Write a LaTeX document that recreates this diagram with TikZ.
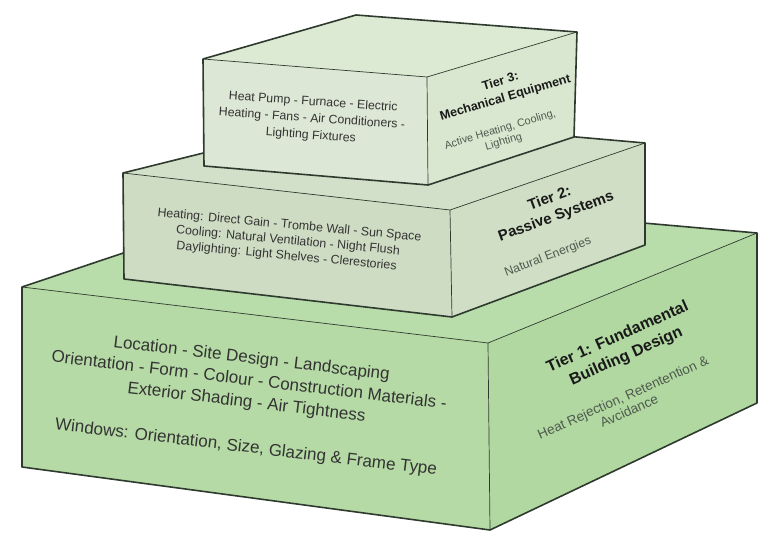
\documentclass[tikz,border=0pt]{standalone}
\usepackage{fontspec}
\setmainfont{Liberation Sans}
\definecolor{tOneFront}{HTML}{B5DAA5}
\definecolor{tOneRight}{HTML}{B1D8A1}
\definecolor{tOneTop}{HTML}{B8DCAA}
\definecolor{tTwoFront}{HTML}{CFDCC4}
\definecolor{tTwoRight}{HTML}{D0DEC5}
\definecolor{tTwoTop}{HTML}{D3E0C9}
\definecolor{tThreeFront}{HTML}{DDE7D5}
\definecolor{tThreeRight}{HTML}{D9E7D0}
\definecolor{tThreeTop}{HTML}{DCE9D3}
\definecolor{edgecol}{HTML}{2E3A2E}
\definecolor{bodytext}{HTML}{333333}
\definecolor{subtext}{HTML}{4F5A4F}
\begin{document}
\begin{tikzpicture}[x=1pt,y=-1pt,
  inner/.style={draw=edgecol, line width=0.7pt},
  outline/.style={draw=edgecol, line width=1.6pt, line join=round},
  bodytxt/.style={text=bodytext, align=center, inner sep=0pt},
  titletxt/.style={text=black!90, align=center, inner sep=0pt, font=\bfseries},
  subtxt/.style={text=subtext, align=center, inner sep=0pt}]
\useasboundingbox[fill=white] (0,0) rectangle (758,534);

% ---------- Tier 1 ----------
\fill[tOneTop] (22,287) -- (302,193) -- (757,233) -- (488,343) -- cycle;
\fill[tOneFront] (22,287) -- (488,343) -- (490,530) -- (22,467) -- cycle;
\fill[tOneRight] (488,343) -- (757,233) -- (757,403) -- (490,530) -- cycle;
\draw[inner] (22,287) -- (488,343) -- (757,233);
\draw[inner] (488,343) -- (490,530);
\draw[outline] (22,287) -- (302,193) -- (757,233) -- (757,403) -- (490,530) -- (22,467) -- cycle;

% ---------- Tier 2 ----------
\fill[tTwoTop] (123,173) -- (348,117) -- (645,143) -- (450,210) -- cycle;
\fill[tTwoFront] (123,173) -- (450,210) -- (452,317) -- (124,279) -- cycle;
\fill[tTwoRight] (450,210) -- (645,143) -- (645,245) -- (452,317) -- cycle;
\draw[inner] (123,173) -- (450,210) -- (645,143);
\draw[inner] (450,210) -- (452,317);
\draw[outline] (123,173) -- (348,117) -- (645,143) -- (645,245) -- (452,317) -- (124,279) -- cycle;

% ---------- Tier 3 ----------
\fill[tThreeTop] (203,59) -- (356,15) -- (577,32) -- (427,77) -- cycle;
\fill[tThreeFront] (203,59) -- (427,77) -- (428,185) -- (204,166) -- cycle;
\fill[tThreeRight] (427,77) -- (577,32) -- (574,137) -- (428,185) -- cycle;
\draw[inner] (203,59) -- (427,77) -- (577,32);
\draw[inner] (427,77) -- (428,185);
\draw[outline] (203,59) -- (356,15) -- (577,32) -- (574,137) -- (428,185) -- (204,166) -- cycle;

% ---------- Texts ----------
\node[bodytxt, rotate=-4, font=\fontsize{12.3}{16.8}\selectfont] (t3body) at (312,119)
  {Heat Pump - Furnace - Electric\\Heating - Fans - Air Conditioners -\\Lighting Fixtures};
\node[titletxt, rotate=16.5, font=\fontsize{12.5}{17}\bfseries] (t3title) at (503,90)
  {Tier 3:\\Mechanical Equipment};
\node[subtxt, rotate=16.5, font=\fontsize{10.8}{12.5}\selectfont] (t3sub) at (502,136)
  {Active Heating, Cooling,\\Lighting};

\node[bodytxt, rotate=-5.4, font=\fontsize{12.4}{15.5}\selectfont] (t2body) at (288,241)
  {Heating: Direct Gain - Trombe Wall - Sun Space\\Cooling: Natural Ventilation - Night Flush\\Daylighting: Light Shelves - Clerestories};
\node[titletxt, rotate=20, font=\fontsize{15}{19}\bfseries] (t2title) at (553,208)
  {Tier 2:\\Passive Systems};
\node[subtxt, rotate=21, font=\fontsize{12.3}{14}\selectfont] (t2sub) at (548,257)
  {Natural Energies};

\node[bodytxt, rotate=-6.8, font=\fontsize{17}{22}\selectfont] (t1body) at (249,381)
  {Location - Site Design - Landscaping\\Orientation - Form - Colour - Construction Materials -\\Exterior Shading - Air Tightness};
\node[bodytxt, rotate=-6.8, font=\fontsize{17}{22}\selectfont] (t1win) at (246,448)
  {Windows: Orientation, Size, Glazing \& Frame Type};
\node[titletxt, rotate=24, font=\fontsize{16}{21}\bfseries] (t1title) at (622,347)
  {Tier 1: Fundamental\\Building Design};
\node[subtxt, rotate=24, font=\fontsize{13.5}{15}\selectfont] (t1sub) at (626,404)
  {Heat Rejection, Retentention \&\\Avcidance};
\end{tikzpicture}
\end{document}
